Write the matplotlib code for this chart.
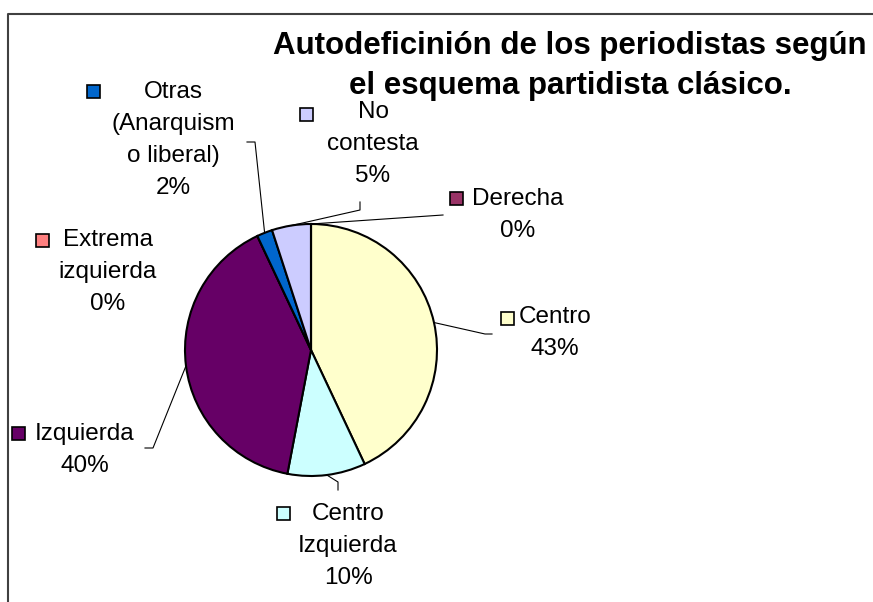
import numpy as np
import matplotlib
matplotlib.use("Agg")
import matplotlib.pyplot as plt
from matplotlib.patches import Rectangle

plt.rcParams["font.family"] = ["Liberation Sans", "DejaVu Sans"]

# data
categories = ["Centro", "Centro\nIzquierda", "Izquierda", "Extrema\nizquierda",
              "Otras\n(Anarquism\no liberal)", "No\ncontesta", "Derecha"]
values = [43, 10, 40, 0, 2, 5, 0]
colors = ["#FFFFCC", "#CCFFFF", "#660066", "#FF8080", "#0066CC", "#CCCCFF", "#993366"]
title = "Autodeficinión de los periodistas según\nel esquema partidista clásico."

W, H = 873, 602
fig = plt.figure(figsize=(W / 100, H / 100), dpi=100)
ax = fig.add_axes([0, 0, 1, 1])

# pie in pixel-like coordinates (y up)
cx, cy, r = 311, H - 350, 126
wedges, _ = ax.pie(values, colors=colors, startangle=90, counterclock=False,
                   center=(cx, cy), radius=r,
                   wedgeprops=dict(edgecolor="black", linewidth=1.5))
ax.set_xlim(0, W)
ax.set_ylim(0, H)
ax.set_aspect("equal")
ax.axis("off")

# label layout: text block center, key square center, leader line start points (pixels, y down)
label_pos = [(555, 333), (348, 546), (85, 450), (108, 272), (173, 140), (373, 144), (518, 215)]
key_pos = [(507, 318), (283, 513), (18, 433), (42, 240), (93, 91), (306, 114), (456, 198)]
leaders = [[(492, 334), (485, 334)], [(338, 490), (338, 482)], [(145, 448), (153, 448)],
           None, [(247, 142), (255, 142)], [(360, 202), (360, 210)], [(443, 215)]]

total = sum(values)
for i, w in enumerate(wedges):
    pct = round(values[i] / total * 100)
    x, y = label_pos[i]
    ax.text(x, H - y, f"{categories[i]}\n{pct}%", ha="center", va="center",
            multialignment="center", fontsize=17.5, linespacing=1.6)
    kx, ky = key_pos[i]
    ax.add_patch(Rectangle((kx - 6.5, H - ky - 6.5), 13, 13, facecolor=colors[i],
                           edgecolor="black", linewidth=1.2))
    if leaders[i] is not None:
        ang = np.deg2rad((w.theta1 + w.theta2) / 2)
        ex, ey = cx + r * np.cos(ang), cy + r * np.sin(ang)
        xs = [p[0] for p in leaders[i]] + [ex]
        ys = [H - p[1] for p in leaders[i]] + [ey]
        ax.plot(xs, ys, color="black", linewidth=0.8)

ax.text(570, H - 66, title, ha="center", va="center", fontsize=22.5,
        fontweight="bold", linespacing=1.45)

# chart area border (left and top visible)
ax.plot([8, 8, W], [0, H - 14, H - 14], color="#404040", linewidth=1.5, clip_on=False)

fig.savefig("out.png", dpi=100)
